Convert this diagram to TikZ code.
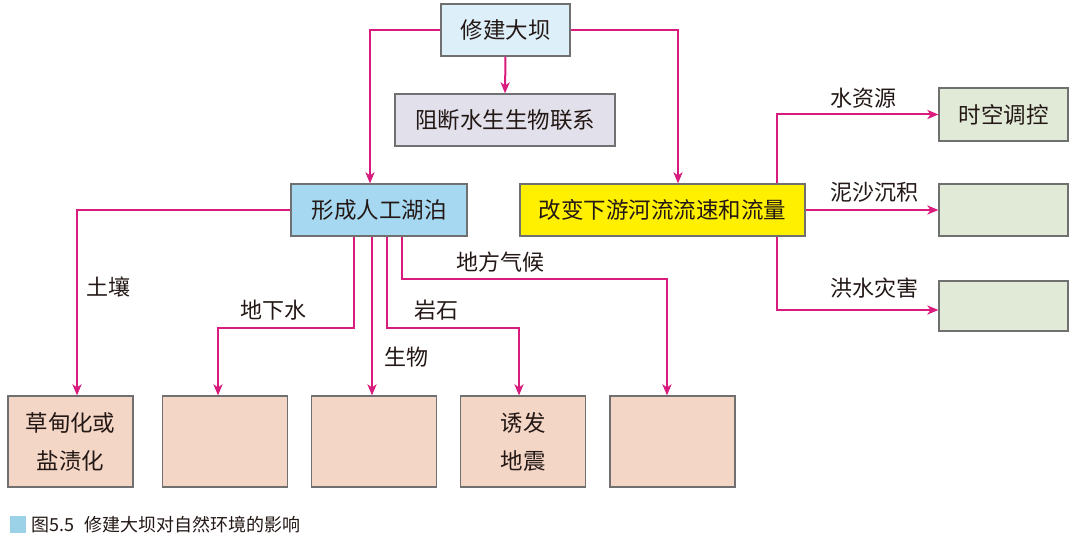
\documentclass[tikz,border=0pt]{standalone}
\usepackage{fontspec}
\setmainfont{Noto Sans CJK SC}
\usetikzlibrary{arrows.meta}
\definecolor{arrc}{HTML}{D81B7D}
\definecolor{edgec}{HTML}{707070}
\definecolor{txtc}{HTML}{231815}
\definecolor{damc}{HTML}{DDEFF8}
\definecolor{blockc}{HTML}{E1E0EB}
\definecolor{lakec}{HTML}{A6D9F1}
\definecolor{yelc}{HTML}{FFF000}
\definecolor{grnc}{HTML}{E1EAD7}
\definecolor{pinkc}{HTML}{F4D6C6}
\definecolor{capc}{HTML}{9CD2E7}
\tikzset{
  box/.style={draw=edgec, line width=1.2pt, inner sep=0pt, align=center, text=txtc,
    font=\fontsize{22.5}{38}\selectfont},
  arr/.style={draw=arrc, line width=2pt, -{Stealth[length=11pt,width=9pt,inset=3pt]}},
  lbl/.style={text=txtc, font=\fontsize{22}{26}\selectfont, inner sep=0pt},
}
\begin{document}
\begin{tikzpicture}[x=1pt,y=-1pt]
\useasboundingbox[fill=white] (0,0) rectangle (1080,556);
% nodes
\node[box, fill=damc, minimum width=129pt, minimum height=52pt] (dam) at (505.5,30) {修建大坝};
\node[box, fill=blockc, minimum width=220pt, minimum height=52pt] (block) at (505,120) {阻断水生生物联系};
\node[box, fill=lakec, minimum width=176pt, minimum height=52pt] (lake) at (379,210) {形成人工湖泊};
\node[box, fill=yelc, minimum width=285pt, minimum height=52pt] (change) at (662.5,210) {改变下游河流流速和流量};
\node[box, fill=grnc, minimum width=129pt, minimum height=53pt] (g1) at (1003.5,114.5) {时空调控};
\node[box, fill=grnc, minimum width=129pt, minimum height=52pt] (g2) at (1003.5,210) {};
\node[box, fill=grnc, minimum width=129pt, minimum height=50pt] (g3) at (1003.5,306) {};
\node[box, fill=pinkc, minimum width=125pt, minimum height=91pt] (b1) at (70.5,441.5) {草甸化或\\盐渍化};
\node[box, fill=pinkc, minimum width=125pt, minimum height=91pt] (b2) at (225,441.5) {};
\node[box, fill=pinkc, minimum width=125pt, minimum height=91pt] (b3) at (374,441.5) {};
\node[box, fill=pinkc, minimum width=125pt, minimum height=91pt] (b4) at (523,441.5) {诱发\\地震};
\node[box, fill=pinkc, minimum width=125pt, minimum height=91pt] (b5) at (672.5,441.5) {};
% connectors from dam
\draw[arr] (dam.south) -- (block.north);
\draw[arr] (dam.west) -| ([xshift=-9pt]lake.north);
\draw[arr] (dam.east) -| ([xshift=15.5pt]change.north);
% connectors from change
\draw[arr] ([xshift=114.5pt]change.north) |- (g1.west);
\draw[arr] (change.east) -- (g2.west);
\draw[arr] ([xshift=114.5pt]change.south) |- ([yshift=-4pt]g3.west);
% connectors from lake
\draw[arr] (lake.west) -| ([xshift=6.5pt]b1.north);
\draw[arr] ([xshift=-25pt]lake.south) -- ++(0,91) -| ([xshift=-7pt]b2.north);
\draw[arr] ([xshift=-7pt]lake.south) -- ([xshift=-2pt]b3.north);
\draw[arr] ([xshift=8pt]lake.south) -- ++(0,91) -| ([xshift=-4pt]b4.north);
\draw[arr] ([xshift=23pt]lake.south) -- ++(0,42) -| ([xshift=-5.5pt]b5.north);
% labels
\node[lbl] (l1) at (863,98) {水资源};
\node[lbl] (l2) at (874,192) {泥沙沉积};
\node[lbl] (l3) at (874,288) {洪水灾害};
\node[lbl] (l4) at (108,287) {土壤};
\node[lbl] (l5) at (273,310) {地下水};
\node[lbl] (l6) at (406,357) {生物};
\node[lbl] (l7) at (436,310) {岩石};
\node[lbl] (l8) at (500,262) {地方气候};
% caption
\fill[capc] (10,516) rectangle (26,533);
\node[anchor=west, inner sep=0pt, text=txtc, font=\fontsize{18}{22}\selectfont] (cap) at (31,525) {图5.5\hspace{10pt}修建大坝对自然环境的影响};
\end{tikzpicture}
\end{document}
